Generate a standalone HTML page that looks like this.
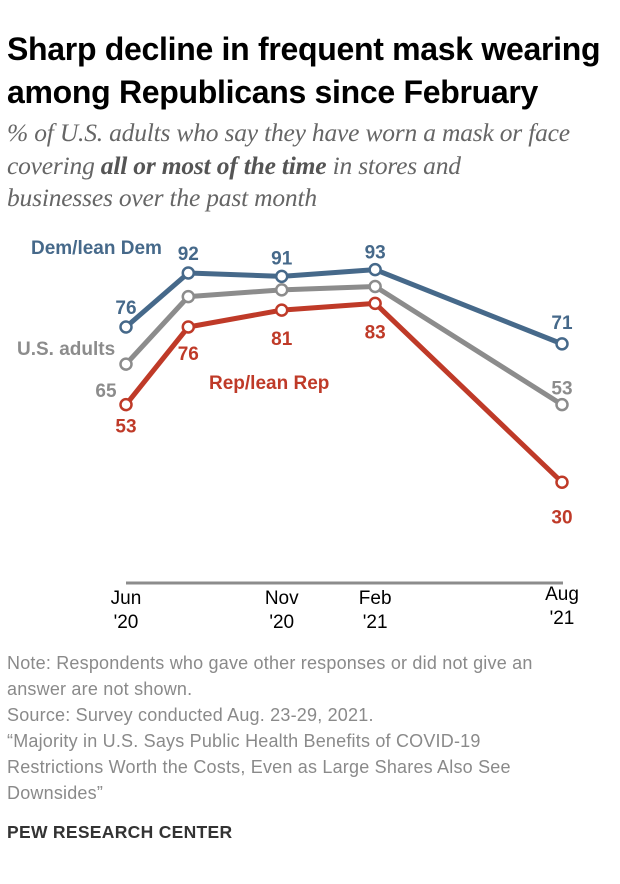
<!DOCTYPE html>
<html><head><meta charset="utf-8"><style>
body{margin:0;width:620px;height:884px;background:#fff;overflow:hidden;font-family:"Liberation Sans",sans-serif;position:relative}
.t{position:absolute;left:7px;white-space:nowrap}
#title{top:28px;font-size:32px;font-weight:bold;line-height:43px;color:#000;letter-spacing:-0.3px}
#sub{top:117px;font-family:"Liberation Serif",serif;font-style:italic;font-size:25.5px;line-height:32.5px;color:#666;letter-spacing:-0.2px}
#sub b{color:#555}
#note{top:650px;font-size:18px;line-height:26px;color:#8a8a8a;letter-spacing:0.2px}
#foot{top:822px;font-size:17.5px;font-weight:bold;color:#333;letter-spacing:0.3px}
svg{position:absolute;left:0;top:0}
</style></head><body>
<div id="title" class="t">Sharp decline in frequent mask wearing<br>among Republicans since February</div>
<div id="sub" class="t">% of U.S. adults who say they have worn a mask or face<br>covering <b>all or most of the time</b> in stores and<br>businesses over the past month</div>
<svg id="chart" width="620" height="650"></svg>
<div id="note" class="t">Note: Respondents who gave other responses or did not give an<br>answer are not shown.<br>Source: Survey conducted Aug. 23-29, 2021.<br>“Majority in U.S. Says Public Health Benefits of COVID-19<br>Restrictions Worth the Costs, Even as Large Shares Also See<br>Downsides”</div>
<div id="foot" class="t">PEW RESEARCH CENTER</div>
<script>
const months=[0,2,5,8,14];
const dem=[76,92,91,93,71];
const usa=[65,85,87,88,53];
const rep=[53,76,81,83,30];
const tickMonths=[0,5,8,14];
const tickTop=["Jun","Nov","Feb","Aug"];
const tickBot=["'20","'20","'21","'21"];
const svg=document.getElementById('chart');
const NS='http://www.w3.org/2000/svg';
const x=m=>126+m*(562-126)/14;
const y=v=>327-(v-76)*3.375;
function mk(tag,attrs){const e=document.createElementNS(NS,tag);for(const k in attrs)e.setAttribute(k,attrs[k]);svg.appendChild(e);return e;}
const axis=mk('line',{x1:126,x2:563,y1:583,y2:583,stroke:'#8c8c8c','stroke-width':3});


tickMonths.forEach((m,i)=>{
  const up=i===3?-4:0;
  const t1=mk('text',{x:x(m),y:604+up,'text-anchor':'middle','font-size':19,fill:'#000'});t1.textContent=tickTop[i];
  
  
  const t2=mk('text',{x:x(m),y:628+up,'text-anchor':'middle','font-size':19,fill:'#000'});t2.textContent=tickBot[i];
  
  
});
const series=[
 {name:'dem',vals:dem,c:'#46698a',lab:[[0,-20],[0,-20],[0,-19],[0,-18],[0,-22]]},
 {name:'us',vals:usa,c:'#8c8c8c',lab:null},
 {name:'rep',vals:rep,c:'#bf3a28',lab:[[0,21],[0,26],[0,28],[0,28],[0,34]]}
];
const usLab=[[-20,26],null,null,null,[0,-17]];
series.forEach(s=>{
  const pts=s.vals.map((v,i)=>x(months[i])+','+y(v)).join(' ');
  const pl=mk('polyline',{points:pts,fill:'none',stroke:s.c,'stroke-width':5,'stroke-linejoin':'round'});
  
  
  s.vals.forEach((v,i)=>{
    const c=mk('circle',{cx:x(months[i]),cy:y(v),r:5.5,fill:'#fff',stroke:s.c,'stroke-width':2.5});
    
    
    const off=s.lab?s.lab[i]:usLab[i];
    if(off){
      const t=mk('text',{x:x(months[i])+off[0],y:y(v)+off[1]+7,'text-anchor':'middle','font-size':19,'font-weight':'bold',fill:s.c});
      t.textContent=v;
      
      
    }
  });
});
const legs=[["Dem/lean Dem",31,254,'#46698a'],["U.S. adults",17,355,'#8c8c8c'],["Rep/lean Rep",209,389,'#bf3a28']];
legs.forEach(l=>{
  const t=mk('text',{x:l[1],y:l[2],'font-size':19,'font-weight':'bold',fill:l[3]});t.textContent=l[0];
  
  
});
</script>
</body></html>
